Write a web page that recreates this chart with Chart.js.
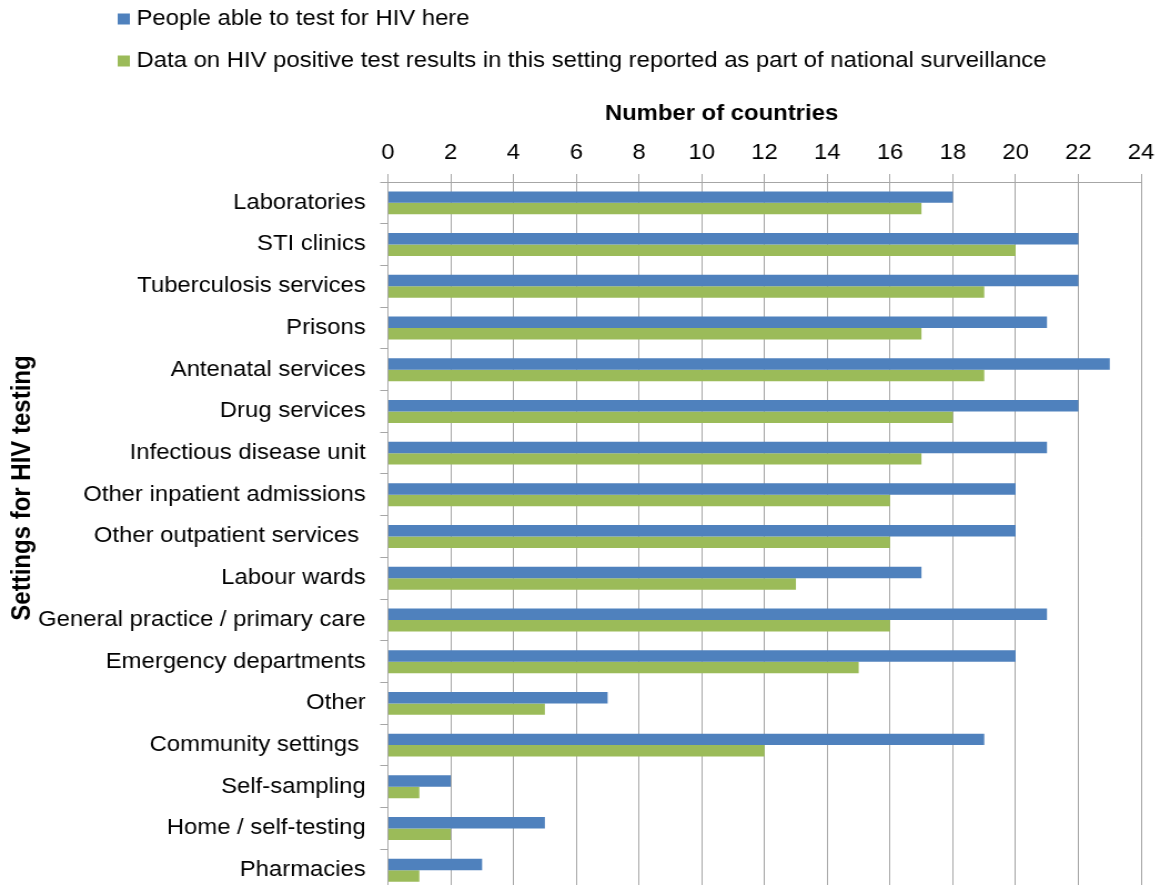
<!DOCTYPE html>
<html>
<head>
<meta charset="utf-8">
<script src="https://cdn.jsdelivr.net/npm/chart.js@4.4.1/dist/chart.umd.min.js"></script>
<style>
    html, body { margin: 0; padding: 0; background: #fff; overflow: hidden; }
    /* the chart is drawn a bit narrow and stretched sideways, like the original export */
    #wrap { transform: scaleX(1.11); transform-origin: 0 0; }
    canvas { display: block; }
</style>
</head>
<body>
<div id="wrap"><canvas id="settingsChart" width="1048" height="917"></canvas></div>
<script>
// ==========================================================
// DATA
// ==========================================================
const settings = [
    'Laboratories', 'STI clinics', 'Tuberculosis services', 'Prisons',
    'Antenatal services', 'Drug services', 'Infectious disease unit',
    'Other inpatient admissions', 'Other outpatient services ', 'Labour wards',
    'General practice / primary care', 'Emergency departments', 'Other',
    'Community settings ', 'Self-sampling', 'Home / self-testing', 'Pharmacies'
];
const ableToTest = [18, 22, 22, 21, 23, 22, 21, 20, 20, 17, 21, 20, 7, 19, 2, 5, 3];
const reportedPositive = [17, 20, 19, 17, 19, 18, 17, 16, 16, 13, 16, 15, 5, 12, 1, 2, 1];
const seriesNames = [
    'People able to test for HIV here',
    'Data on HIV positive test results in this setting reported as part of national surveillance'
];
const seriesColors = ['#4F81BD', '#9BBB59'];
const xTicksMax = 24;
const xTicksStep = 2;

const FONT = "'Liberation Sans', Arial, sans-serif";
const GRID = '#a6a6a6';

Chart.defaults.font.family = FONT;
Chart.defaults.font.size = 21.5;
Chart.defaults.color = '#000';

// ==========================================================
// Legend + axis titles, drawn by hand (they sit off-centre)
// ==========================================================
const extraText = {
    id: 'extraText',
    afterDraw(chart) {
        const ctx = chart.ctx;
        ctx.save();
        ctx.textBaseline = 'middle';
        ctx.textAlign = 'left';
        ctx.font = '21.5px ' + FONT;
        chart.data.datasets.forEach((ds, i) => {
            const rowY = 19 + i * 42;
            ctx.fillStyle = ds.backgroundColor;
            ctx.fillRect(106, rowY - 5.5, 11, 11);
            ctx.fillStyle = '#000';
            ctx.fillText(ds.label, 123, rowY);
        });

        ctx.font = 'bold 21.5px ' + FONT;
        ctx.textAlign = 'center';
        ctx.fillText('Number of countries', 650, 114);

        ctx.translate(20, 488);
        ctx.rotate(-Math.PI / 2);
        ctx.font = 'bold 24px ' + FONT;
        ctx.fillText('Settings for HIV testing', 0, 0);
        ctx.restore();
    }
};

// ==========================================================
// CHART
// ==========================================================
new Chart(document.getElementById('settingsChart'), {
    type: 'bar',
    data: {
        labels: settings,
        datasets: [
            { label: seriesNames[0], data: ableToTest, backgroundColor: seriesColors[0] },
            { label: seriesNames[1], data: reportedPositive, backgroundColor: seriesColors[1] }
        ]
    },
    options: {
        indexAxis: 'y',
        responsive: false,
        animation: false,
        datasets: { bar: { categoryPercentage: 0.55, barPercentage: 1.0 } },
        layout: { padding: { top: 0, right: 19, bottom: 1, left: 0 } },
        plugins: {
            legend: { display: false },
            tooltip: { enabled: false }
        },
        scales: {
            x: {
                position: 'top',
                min: 0,
                max: xTicksMax,
                ticks: { stepSize: xTicksStep, padding: 8 },
                grid: { color: GRID, tickLength: 8 },
                border: { color: GRID },
                afterFit: (scale) => { scale.height = 182; }
            },
            y: {
                ticks: { padding: 13 },
                grid: { drawOnChartArea: false, color: GRID, tickLength: 7, offset: true },
                border: { color: GRID },
                afterFit: (scale) => { scale.width = 349.5; }
            }
        }
    },
    plugins: [extraText]
});
</script>
</body>
</html>
